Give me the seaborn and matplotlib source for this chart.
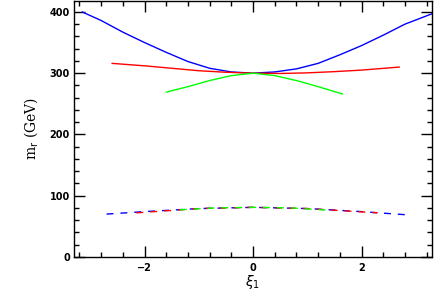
import numpy as np
import pandas as pd
import matplotlib
matplotlib.use("Agg")
import matplotlib.pyplot as plt
import seaborn as sns
from matplotlib.ticker import MultipleLocator

# solid curves
blue_x = [-3.15, -2.8, -2.4, -2.0, -1.6, -1.2, -0.8, -0.4, 0.0, 0.4, 0.8, 1.2, 1.6, 2.0, 2.4, 2.8, 3.3]
blue_y = [400, 386, 367, 350, 334, 319, 308, 302, 300, 302, 307, 316, 330, 345, 362, 380, 397]

red_x = [-2.6, -2.0, -1.5, -1.0, -0.5, 0.0, 0.5, 1.0, 1.5, 2.0, 2.7]
red_y = [316, 312, 308, 304, 301.5, 300, 299.5, 300.5, 302.5, 305, 310]

green_x = [-1.6, -1.2, -0.8, -0.4, 0.0, 0.4, 0.8, 1.2, 1.65]
green_y = [269, 278, 288, 296, 300, 296, 288, 278, 266]

# dashed curves
blue_d_x = [-2.7, -2.0, -1.0, 0.0, 1.0, 2.0, 2.8]
blue_d_y = [70, 74, 79, 81, 79, 74, 69]

red_d_x = [-2.15, -1.0, 0.0, 1.0, 2.3]
red_d_y = [72, 79, 81, 79, 72]

green_d_x = [-1.35, -0.7, 0.0, 0.7, 1.45]
green_d_y = [77, 80, 81, 80, 76]

sns.set_style("ticks", {"axes.edgecolor": "black", "text.color": "black",
                        "xtick.color": "black", "ytick.color": "black",
                        "axes.labelcolor": "black"})

fig = plt.figure(figsize=(4.34, 2.94), dpi=100)
ax = fig.add_axes([0.1705, 0.126, 0.825, 0.871])

solid = [(blue_x, blue_y, "#0000ff"), (red_x, red_y, "#ff0000"), (green_x, green_y, "#00ff00")]
for xs, ys, c in solid:
    sns.lineplot(x=xs, y=ys, color=c, lw=1.0, ax=ax, sort=False)

dashed = [(blue_d_x, blue_d_y, "#0000ff"), (red_d_x, red_d_y, "#ff0000"), (green_d_x, green_d_y, "#00ff00")]
for xs, ys, c in dashed:
    sns.lineplot(x=xs, y=ys, color=c, lw=1.0, ax=ax, sort=False, linestyle=(0, (5, 5)))

ax.set_xlim(-3.3, 3.3)
ax.set_ylim(0, 418)
ax.xaxis.set_major_locator(MultipleLocator(2))
ax.xaxis.set_minor_locator(MultipleLocator(0.4))
ax.yaxis.set_major_locator(MultipleLocator(100))
ax.yaxis.set_minor_locator(MultipleLocator(20))
ax.tick_params(which="both", direction="in", top=True, right=True, width=1, labelsize=7,
               color="black", labelcolor="black")
ax.tick_params(axis="x", pad=4)
ax.tick_params(axis="y", pad=3)
ax.tick_params(which="major", length=8)
ax.tick_params(which="minor", length=3.5)
for lab in ax.get_xticklabels() + ax.get_yticklabels():
    lab.set_fontweight("bold")
for sp in ax.spines.values():
    sp.set_linewidth(1.0)
    sp.set_color("black")

ax.set_xlabel(r"$\xi_1$", fontsize=10, labelpad=0, color="black")
ax.set_ylabel(r"m$_\mathrm{r}$ (GeV)", fontsize=10, family="DejaVu Serif", labelpad=7, color="black")

fig.savefig("out.png", dpi=100)
